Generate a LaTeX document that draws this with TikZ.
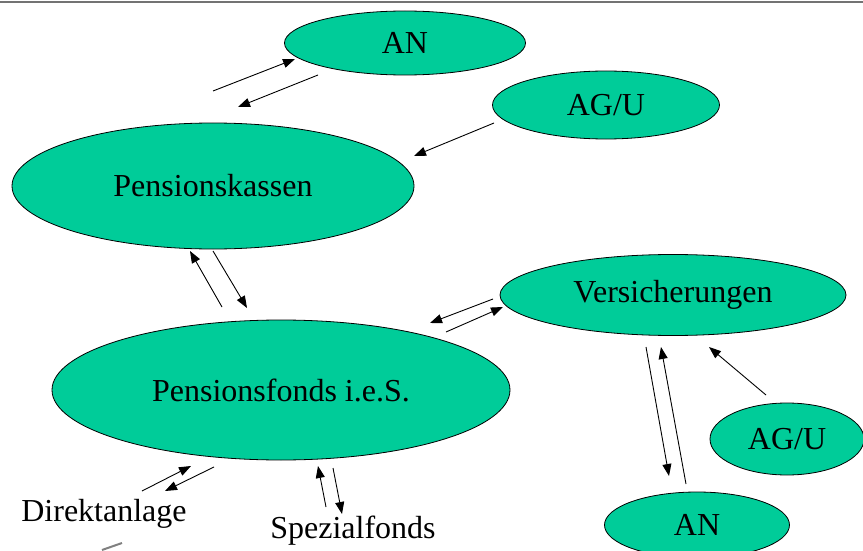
\documentclass[tikz,border=0pt]{standalone}
\usepackage{fontspec}
\setmainfont{Liberation Serif}
\usetikzlibrary{shapes.geometric,arrows.meta}
\definecolor{ovalgreen}{RGB}{0,204,153}
\tikzset{
  oval/.style={ellipse, draw=black, line width=0.8pt, fill=ovalgreen, inner sep=0pt, font=\fontsize{32}{32}\selectfont},
  lbl/.style={inner sep=0pt, font=\fontsize{32}{32}\selectfont},
  flow/.style={line width=0.9pt, -{Triangle[length=12pt,width=9pt]}}
}
\begin{document}
\begin{tikzpicture}[x=1pt,y=-1pt]
\useasboundingbox (0,0) rectangle (863,551);
\draw[black!55, line width=2pt] (0,2.5) -- (863,2.5);
% ovals
\node[oval, minimum width=241pt, minimum height=64pt] (an1) at (405,43) {AN};
\node[oval, minimum width=227pt, minimum height=68pt] (ag1) at (606,105) {AG/U};
\node[oval, minimum width=402pt, minimum height=126pt] (pk) at (213,186) {Pensionskassen};
\node[oval, minimum width=346pt, minimum height=81pt] (vs) at (673,295) {Versicherungen};
\node[oval, minimum width=458pt, minimum height=140pt] (pf) at (281,390) {Pensionsfonds i.e.S.};
\node[oval, minimum width=154pt, minimum height=72pt] (ag2) at (787,439) {AG/U};
\node[oval, minimum width=185pt, minimum height=66pt] (an2) at (697,525) {AN};
\node[lbl] (da) at (104,514) {Direktanlage};
\node[lbl] (sf) at (353,531) {Spezialfonds};
% arrow end points
\coordinate (a1s) at (213,91);  \coordinate (a1e) at (295,59);
\coordinate (a2s) at (318,75);  \coordinate (a2e) at (238,107);
\coordinate (a3s) at (494,123); \coordinate (a3e) at (414,156);
\coordinate (a4s) at (222,307); \coordinate (a4e) at (190,251);
\coordinate (a5s) at (213,251); \coordinate (a5e) at (247,308);
\coordinate (a6s) at (493,299); \coordinate (a6e) at (430,323);
\coordinate (a7s) at (446,332); \coordinate (a7e) at (503,307);
\coordinate (a8s) at (646,347); \coordinate (a8e) at (669,476);
\coordinate (a9s) at (686,484); \coordinate (a9e) at (661,347);
\coordinate (a10s) at (766,395); \coordinate (a10e) at (709,347);
\coordinate (a11s) at (142,491); \coordinate (a11e) at (191,466);
\coordinate (a12s) at (214,467); \coordinate (a12e) at (165,491);
\coordinate (a13s) at (326,507); \coordinate (a13e) at (318,466);
\coordinate (a14s) at (333,468); \coordinate (a14e) at (342,514);
\draw[flow] (a1s) -- (a1e);
\draw[flow] (a2s) -- (a2e);
\draw[flow] (a3s) -- (a3e);
\draw[flow] (a4s) -- (a4e);
\draw[flow] (a5s) -- (a5e);
\draw[flow] (a6s) -- (a6e);
\draw[flow] (a7s) -- (a7e);
\draw[flow] (a8s) -- (a8e);
\draw[flow] (a9s) -- (a9e);
\draw[flow] (a10s) -- (a10e);
\draw[flow] (a11s) -- (a11e);
\draw[flow] (a12s) -- (a12e);
\draw[flow] (a13s) -- (a13e);
\draw[flow] (a14s) -- (a14e);
% grey stroke
\coordinate (g1) at (102,550); \coordinate (g2) at (122,543);
\draw[gray, line width=2pt] (g1) -- (g2);
\end{tikzpicture}
\end{document}
